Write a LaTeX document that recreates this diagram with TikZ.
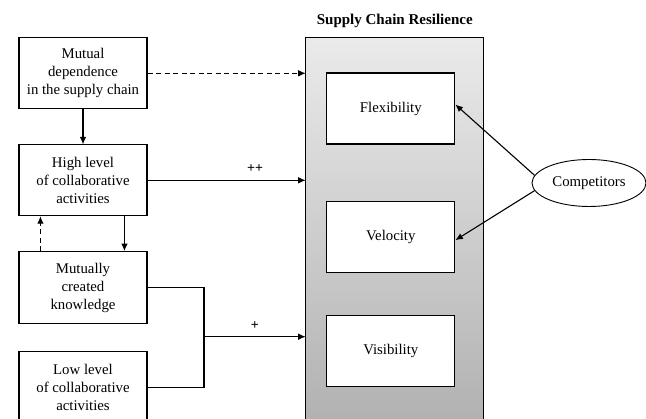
\documentclass[tikz,border=0pt]{standalone}
\usepackage{fontspec}
\setmainfont{Liberation Serif}
\usetikzlibrary{arrows.meta,shapes.geometric}
\begin{document}
\begin{tikzpicture}[x=1pt,y=-1pt,
  lbox/.style={draw,line width=1.1pt,fill=white,minimum width=128pt,align=center,inner sep=0pt,font=\fontsize{14.8}{18}\selectfont},
  ibox/.style={draw,line width=1.1pt,fill=white,minimum width=128pt,minimum height=71pt,inner sep=0pt,font=\fontsize{14.8}{18}\selectfont},
  arr/.style={line width=1.1pt,-{Latex[length=7.5pt,width=6.5pt]}},
  conn/.style={line width=1.1pt},
  lbl/.style={font=\fontsize{14}{16}\selectfont\bfseries}]
\useasboundingbox (0,0) rectangle (646,419);
\clip (0,0) rectangle (646,419);
% big container
\draw[line width=1.1pt,top color=black!8,bottom color=black!31] (305.7,37.3) rectangle (483.3,430);
\coordinate (bigw) at (305.7,200);
\node[font=\fontsize{15}{17}\selectfont\bfseries] (title) at (394.8,20.5) {Supply Chain Resilience};
% inner boxes
\node[ibox] (flex) at (390.8,108.5) {Flexibility};
\node[ibox] (vel) at (390.8,237.2) {Velocity};
\node[ibox] (vis) at (390.8,351.3) {Visibility};
% left boxes
\node[lbox,minimum height=71.3pt] (b1) at (83,73.3) {Mutual\\dependence\\in the supply chain};
\node[lbox,minimum height=70.7pt] (b2) at (83,180.3) {High level\\of collaborative\\activities};
\node[lbox,minimum height=71.6pt] (b3) at (83,287.5) {Mutually\\created\\knowledge};
\node[lbox,minimum height=72pt] (b4) at (83,387.7) {Low level\\of collaborative\\activities};
% ellipse
\node[draw,ellipse,line width=0.9pt,minimum width=114pt,minimum height=47pt,inner sep=0pt,font=\fontsize{14.8}{18}\selectfont] (comp) at (589,183) {Competitors};
% connectors
\draw[arr,dashed,dash pattern=on 5pt off 3.5pt] (b1.east) -- (b1.east -| bigw);
\draw[arr] (b1.south) -- (b2.north);
\draw[arr] (b2.east) -- (b2.east -| bigw) node[lbl,pos=0.68,above=4pt] {++};
\draw[arr,dashed,dash pattern=on 5pt off 3.5pt] ([xshift=22pt]b3.north west) -- ([xshift=22pt]b2.south west);
\draw[arr] ([xshift=106pt]b2.south west) -- ([xshift=106pt]b3.north west);
\coordinate (jx) at (204,336.7);
\draw[conn] (b3.east) -- (b3.east -| jx) -- (b4.east -| jx) -- (b4.east);
\draw[arr] (jx) -- (jx -| bigw) node[lbl,pos=0.5,above=3pt] {+};
\draw[arr] (comp.172) -- ([yshift=4pt]flex.east);
\draw[arr] (comp.188) -- ([yshift=-3pt]vel.east);
\end{tikzpicture}
\end{document}
